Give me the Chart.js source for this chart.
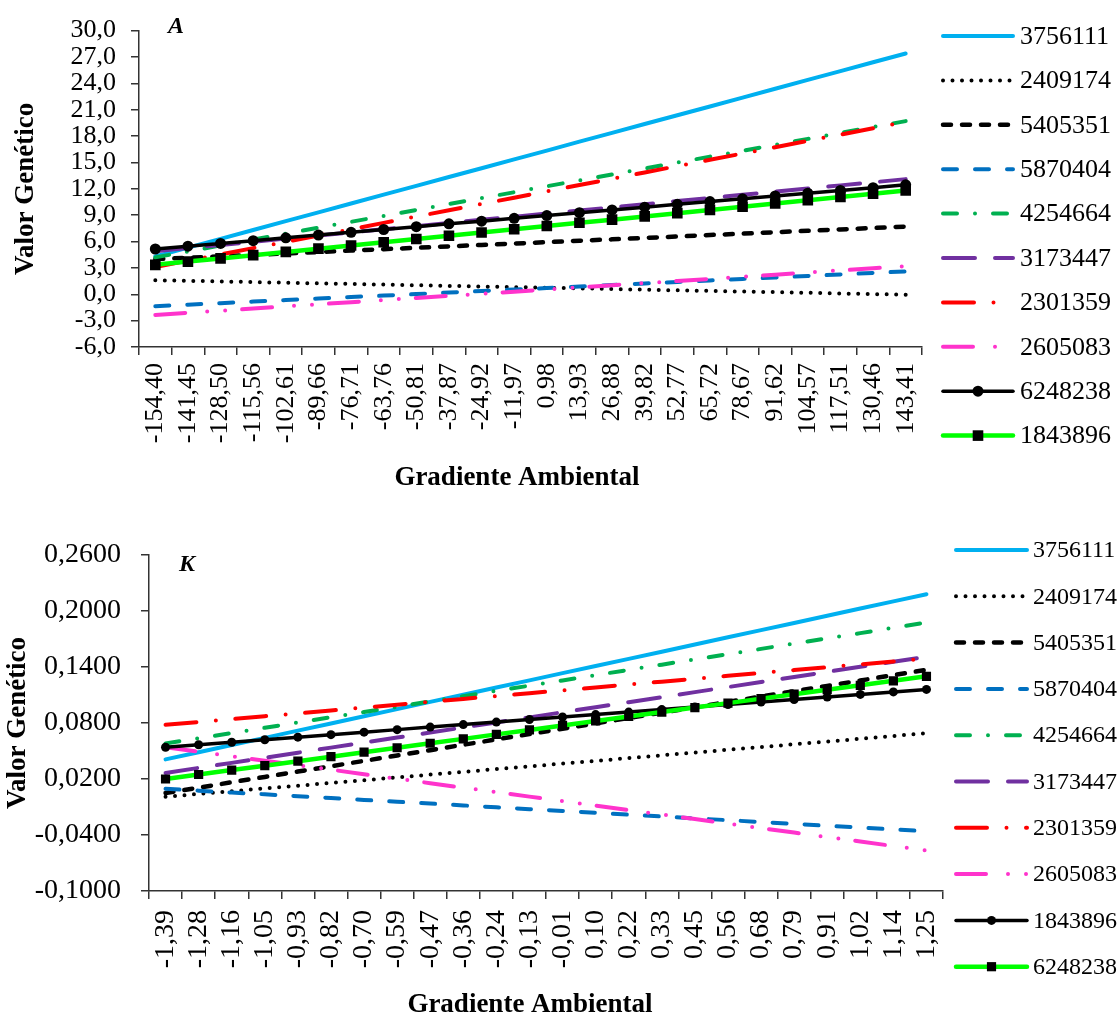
<!DOCTYPE html>
<html><head><meta charset="utf-8">
<script src="https://cdn.jsdelivr.net/npm/chart.js@4.4.0/dist/chart.umd.min.js"></script>
<style>
html,body{margin:0;padding:0;background:#fff;}
canvas{display:block;}
</style></head><body>
<canvas id="cA" width="1118" height="500"></canvas>
<canvas id="cK" width="1118" height="519"></canvas>
<script>
// ---------- DATA ----------
const categoriesA = ['-154,40','-141,45','-128,50','-115,56','-102,61','-89,66','-76,71','-63,76','-50,81','-37,87','-24,92','-11,97','0,98','13,93','26,88','39,82','52,77','65,72','78,67','91,62','104,57','117,51','130,46','143,41'];
const categoriesK = ['-1,39','-1,28','-1,16','-1,05','-0,93','-0,82','-0,70','-0,59','-0,47','-0,36','-0,24','-0,13','-0,01','0,10','0,22','0,33','0,45','0,56','0,68','0,79','0,91','1,02','1,14','1,25'];

const yTicksA = ['-6,0','-3,0','0,0','3,0','6,0','9,0','12,0','15,0','18,0','21,0','24,0','27,0','30,0'];
const yTicksK = ['-0,1000','-0,0400','0,0200','0,0800','0,1400','0,2000','0,2600'];

const namesA = ['3756111','2409174','5405351','5870404','4254664','3173447','2301359','2605083','6248238','1843896'];
const namesK = ['3756111','2409174','5405351','5870404','4254664','3173447','2301359','2605083','1843896','6248238'];

// Panel A values
const a_3756111 = [4.30,5.30,6.31,7.31,8.32,9.32,10.33,11.33,12.33,13.34,14.34,15.35,16.35,17.36,18.36,19.37,20.37,21.37,22.38,23.38,24.39,25.39,26.40,27.40];
const a_2409174 = [1.60,1.53,1.46,1.38,1.31,1.24,1.17,1.10,1.03,0.95,0.88,0.81,0.74,0.67,0.60,0.52,0.45,0.38,0.31,0.24,0.17,0.09,0.02,-0.05];
const a_5405351 = [4.00,4.16,4.32,4.48,4.64,4.80,4.97,5.13,5.29,5.45,5.61,5.77,5.93,6.09,6.25,6.41,6.57,6.74,6.90,7.06,7.22,7.38,7.54,7.70];
const a_5870404 = [-1.35,-1.18,-1.01,-0.83,-0.66,-0.49,-0.32,-0.15,0.02,0.19,0.37,0.54,0.71,0.88,1.05,1.23,1.40,1.57,1.74,1.91,2.08,2.26,2.43,2.60];
const a_4254664 = [4.20,4.87,5.55,6.22,6.90,7.57,8.24,8.92,9.59,10.27,10.94,11.61,12.29,12.96,13.63,14.31,14.98,15.66,16.33,17.00,17.68,18.35,19.03,19.70];
const a_3173447 = [4.90,5.26,5.61,5.97,6.33,6.68,7.04,7.40,7.75,8.11,8.47,8.82,9.18,9.53,9.89,10.25,10.60,10.96,11.32,11.67,12.03,12.39,12.74,13.10];
const a_2301359 = [3.10,3.82,4.53,5.25,5.97,6.69,7.40,8.12,8.84,9.56,10.27,10.99,11.71,12.43,13.14,13.86,14.58,15.30,16.01,16.73,17.45,18.17,18.88,19.60];
const a_2605083 = [-2.35,-2.11,-1.87,-1.63,-1.38,-1.14,-0.90,-0.66,-0.42,-0.18,0.06,0.30,0.55,0.79,1.03,1.27,1.51,1.75,1.99,2.23,2.48,2.72,2.96,3.20];
const a_6248238 = [5.15,5.47,5.78,6.10,6.42,6.74,7.05,7.37,7.69,8.01,8.32,8.64,8.96,9.28,9.59,9.91,10.23,10.55,10.86,11.18,11.50,11.82,12.13,12.45];
const a_1843896 = [3.35,3.72,4.08,4.45,4.82,5.19,5.55,5.92,6.29,6.66,7.02,7.39,7.76,8.13,8.49,8.86,9.23,9.60,9.96,10.33,10.70,11.07,11.43,11.80];

// Panel K values
const k_3756111 = [0.0410,0.0487,0.0564,0.0641,0.0718,0.0795,0.0872,0.0949,0.1026,0.1103,0.1180,0.1257,0.1334,0.1410,0.1487,0.1564,0.1641,0.1718,0.1795,0.1872,0.1949,0.2026,0.2103,0.2180];
const k_2409174 = [0.0010,0.0040,0.0069,0.0099,0.0128,0.0158,0.0187,0.0217,0.0247,0.0276,0.0306,0.0335,0.0365,0.0394,0.0424,0.0454,0.0483,0.0513,0.0542,0.0572,0.0601,0.0631,0.0661,0.0690];
const k_5405351 = [0.0050,0.0107,0.0165,0.0222,0.0280,0.0337,0.0394,0.0452,0.0509,0.0567,0.0624,0.0681,0.0739,0.0796,0.0853,0.0911,0.0968,0.1026,0.1083,0.1140,0.1198,0.1255,0.1313,0.1370];
const k_5870404 = [0.0095,0.0075,0.0055,0.0036,0.0016,-0.0004,-0.0024,-0.0043,-0.0063,-0.0083,-0.0103,-0.0123,-0.0142,-0.0162,-0.0182,-0.0202,-0.0222,-0.0241,-0.0261,-0.0281,-0.0301,-0.0320,-0.0340,-0.0360];
const k_4254664 = [0.0580,0.0636,0.0693,0.0749,0.0805,0.0862,0.0918,0.0974,0.1031,0.1087,0.1144,0.1200,0.1256,0.1313,0.1369,0.1425,0.1482,0.1538,0.1594,0.1651,0.1707,0.1763,0.1820,0.1876];
const k_3173447 = [0.0265,0.0319,0.0373,0.0427,0.0482,0.0536,0.0590,0.0644,0.0698,0.0752,0.0806,0.0860,0.0915,0.0969,0.1023,0.1077,0.1131,0.1185,0.1239,0.1293,0.1348,0.1402,0.1456,0.1510];
const k_2301359 = [0.0780,0.0811,0.0842,0.0873,0.0903,0.0934,0.0965,0.0996,0.1027,0.1058,0.1089,0.1120,0.1150,0.1181,0.1212,0.1243,0.1274,0.1305,0.1336,0.1367,0.1397,0.1428,0.1459,0.1490];
const k_2605083 = [0.0540,0.0492,0.0444,0.0396,0.0348,0.0300,0.0251,0.0203,0.0155,0.0107,0.0059,0.0011,-0.0037,-0.0085,-0.0133,-0.0181,-0.0229,-0.0278,-0.0326,-0.0374,-0.0422,-0.0470,-0.0518,-0.0566];
const k_1843896 = [0.0540,0.0567,0.0594,0.0621,0.0648,0.0675,0.0702,0.0729,0.0756,0.0783,0.0810,0.0837,0.0864,0.0890,0.0917,0.0944,0.0971,0.0998,0.1025,0.1052,0.1079,0.1106,0.1133,0.1160];
const k_6248238 = [0.0200,0.0248,0.0296,0.0343,0.0391,0.0439,0.0487,0.0535,0.0583,0.0630,0.0678,0.0726,0.0774,0.0822,0.0870,0.0917,0.0965,0.1013,0.1061,0.1109,0.1157,0.1204,0.1252,0.1300];

const seriesA = [a_3756111,a_2409174,a_5405351,a_5870404,a_4254664,a_3173447,a_2301359,a_2605083,a_6248238,a_1843896];
const seriesK = [k_3756111,k_2409174,k_5405351,k_5870404,k_4254664,k_3173447,k_2301359,k_2605083,k_1843896,k_6248238];

// ---------- STYLES ----------
const FONT = '"Liberation Serif", "Times New Roman", serif';
Chart.defaults.font.family = FONT;
Chart.defaults.color = '#000';

const styles = [
  {color:'#00B0F0', width:4,   dash:[]},
  {color:'#000000', width:4,   dash:[0,9.5]},
  {color:'#000000', width:4.5, dash:[8,11]},
  {color:'#0070C0', width:4,   dash:[14,18]},
  {color:'#00B050', width:4,   dash:[14,18,0,18]},
  {color:'#7030A0', width:4,   dash:[32,20]},
  {color:'#FF0000', width:4,   dash:[31,19.5,0,19.5]},
  {color:'#FF33CC', width:4,   dash:[30,22,0,18,0,17]},
  {color:'#000000', width:3.5, dash:[], marker:'circle'},
  {color:'#00FF00', width:4.5, dash:[], marker:'rect'}
];

function makeDatasets(names, series, circleR, rectR) {
  return names.map((n, i) => {
    const st = styles[i];
    const r = st.marker === 'circle' ? circleR : (st.marker === 'rect' ? rectR : 0);
    return {
      label: n, data: series[i],
      borderColor: st.color, backgroundColor: st.color,
      borderWidth: st.width, borderDash: st.dash,
      borderCapStyle: 'round', borderJoinStyle: 'round',
      pointStyle: st.marker || 'circle', pointRadius: r, pointHoverRadius: r,
      pointBackgroundColor: '#000', pointBorderColor: '#000', pointBorderWidth: 0,
      tension: 0, fill: false, order: names.length - i
    };
  });
}

function yScale(tickLabels, fontSize, pad, width, titlePad) {
  const vals = tickLabels.map(s => parseFloat(s.replace(',', '.')));
  return {
    type: 'linear', min: Math.min(...vals), max: Math.max(...vals),
    afterBuildTicks: sc => { sc.ticks = vals.map(v => ({value: v})); },
    ticks: {
      autoSkip: false, padding: pad, color: '#000',
      font: {family: FONT, size: fontSize},
      callback: (v) => tickLabels[vals.indexOf(v)]
    },
    grid: {drawOnChartArea: false, drawTicks: true, tickLength: 8, color: '#333', tickColor: '#333', lineWidth: 1.5},
    border: {display: true, color: '#333', width: 1.5},
    title: {display: true, text: 'Valor Genético', color: '#000',
            font: {family: FONT, size: 27, weight: 'bold'}, padding: {top: titlePad, bottom: 0}},
    afterFit: sc => { sc.width = width; }
  };
}

function xScale(fontSize, pad, height) {
  return {
    type: 'category', offset: true,
    grid: {offset: true, drawOnChartArea: false, drawTicks: true, tickLength: 8, color: '#333', tickColor: '#333', lineWidth: 1.5},
    border: {display: true, color: '#333', width: 1.5},
    ticks: {autoSkip: false, maxRotation: 90, minRotation: 90, padding: pad, color: '#000',
            font: {family: FONT, size: fontSize}},
    afterFit: sc => { sc.height = height; }
  };
}

const overlay = {
  id: 'overlay',
  afterDraw(chart, args, o) {
    const ctx = chart.ctx;
    ctx.save();
    ctx.fillStyle = '#000';
    ctx.textAlign = 'center';
    ctx.textBaseline = 'middle';
    ctx.font = `italic bold ${o.letterSize}px ${FONT}`;
    ctx.fillText(o.letter, o.letterX, o.letterY);
    ctx.font = `bold 27px ${FONT}`;
    ctx.fillText(o.xTitle, o.xTitleX, o.xTitleY);
    // legend
    chart.data.datasets.forEach((ds, i) => {
      const y = o.legY0 + i * o.legDy;
      ctx.beginPath();
      ctx.setLineDash(ds.borderDash || []);
      ctx.lineCap = 'round';
      ctx.lineWidth = ds.borderWidth;
      ctx.strokeStyle = ds.borderColor;
      ctx.moveTo(o.legX0, y);
      ctx.lineTo(o.legX1, y);
      ctx.stroke();
      ctx.setLineDash([]);
      if (ds.pointRadius > 0) {
        const cx = (o.legX0 + o.legX1) / 2;
        ctx.fillStyle = '#000';
        ctx.beginPath();
        if (ds.pointStyle === 'rect') {
          const h = ds.pointRadius * Math.SQRT1_2;
          ctx.rect(cx - h, y - h, 2 * h, 2 * h);
        } else {
          ctx.arc(cx, y, ds.pointRadius, 0, Math.PI * 2);
        }
        ctx.fill();
      }
      ctx.fillStyle = '#000';
      ctx.textAlign = 'left';
      ctx.font = `${o.legFont}px ${FONT}`;
      ctx.fillText(ds.label, o.legText, y + 1);
    });
    ctx.restore();
  }
};

function commonOptions(pad, ys, xs, ov) {
  return {
    responsive: false, animation: false, devicePixelRatio: 1,
    layout: {padding: pad},
    plugins: {legend: {display: false}, tooltip: {enabled: false}, overlay: ov},
    scales: {x: xs, y: ys},
    elements: {line: {tension: 0}}
  };
}

new Chart(document.getElementById('cA'), {
  type: 'line',
  data: {labels: categoriesA, datasets: makeDatasets(namesA, seriesA, 5.5, 7.5)},
  options: commonOptions({left: 0, right: 196, top: 28, bottom: 0},
    yScale(yTicksA, 26, 15, 139, 10),
    xScale(26, 8, 153),
    {letter: 'A', letterSize: 24, letterX: 176, letterY: 27, xTitle: 'Gradiente Ambiental', xTitleX: 517, xTitleY: 478,
     legX0: 943, legX1: 1013, legText: 1020, legY0: 36, legDy: 44.4, legFont: 26}),
  plugins: [overlay]
});

new Chart(document.getElementById('cK'), {
  type: 'line',
  data: {labels: categoriesK, datasets: makeDatasets(namesK, seriesK, 4.5, 6.5)},
  options: commonOptions({left: 0, right: 175, top: 55, bottom: 0},
    yScale(yTicksK, 28, 20, 149, 2),
    xScale(28, 11, 128),
    {letter: 'K', letterSize: 24, letterX: 187, letterY: 65, xTitle: 'Gradiente Ambiental', xTitleX: 530, xTitleY: 505,
     legX0: 956, legX1: 1027, legText: 1033, legY0: 50, legDy: 46.3, legFont: 24}),
  plugins: [overlay]
});
</script>
</body></html>
